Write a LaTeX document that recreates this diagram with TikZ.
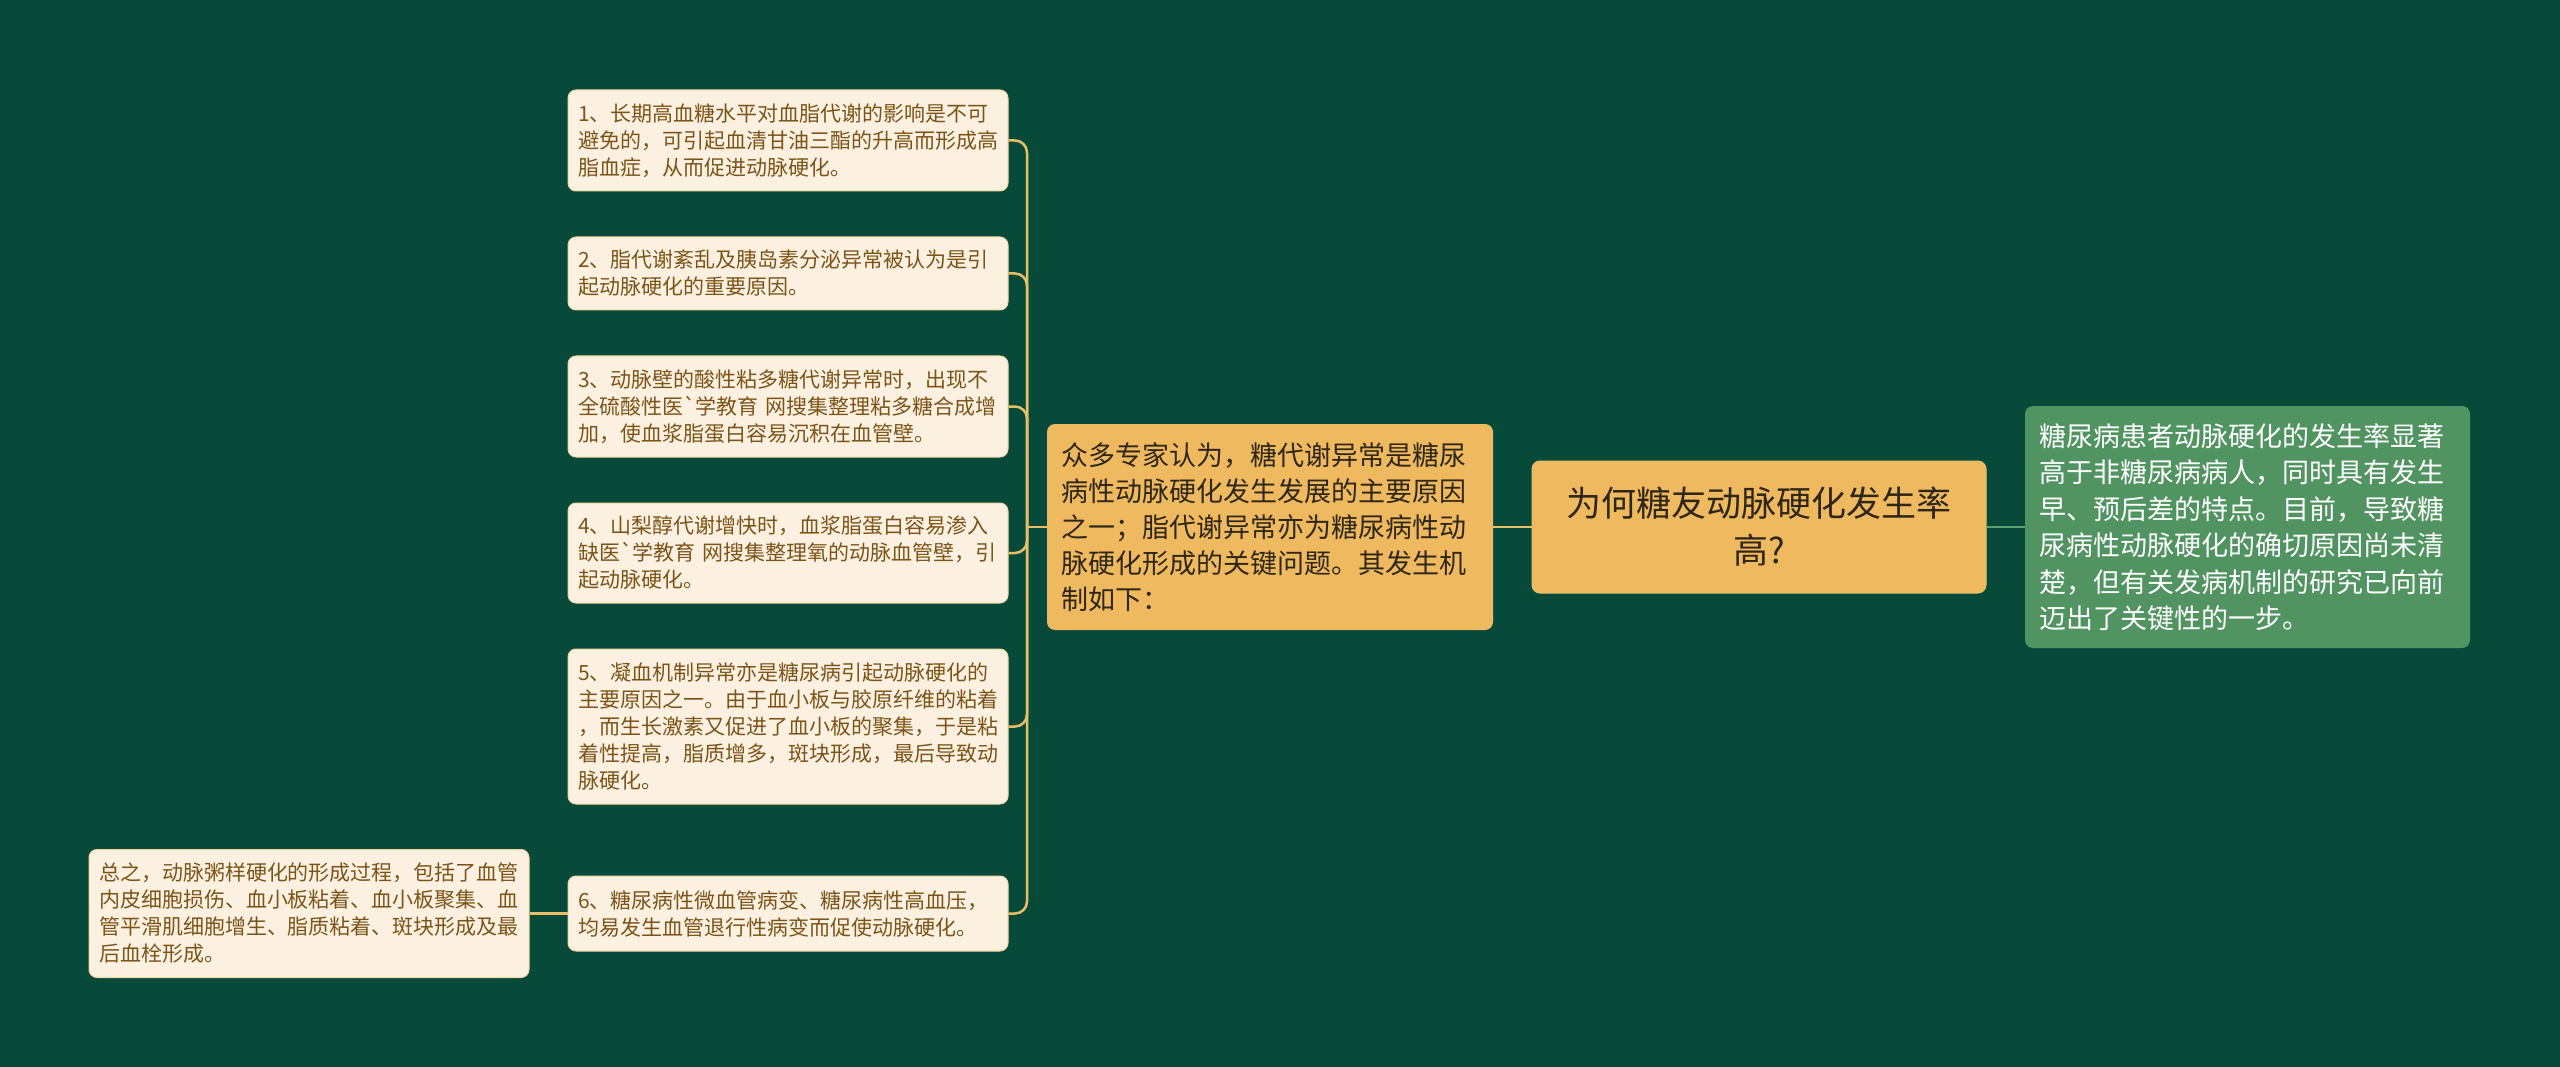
\documentclass[tikz,border=0pt]{standalone}
\usepackage{fontspec}
\newfontfamily\cjk{Noto Sans CJK SC}
\definecolor{bg}{HTML}{074A3A}
\definecolor{leaffill}{HTML}{FCF1E1}
\definecolor{leafedge}{HTML}{F0D79C}
\definecolor{leaftext}{HTML}{7B5418}
\definecolor{orangefill}{HTML}{EFBA5F}
\definecolor{darktext}{HTML}{2E2616}
\definecolor{greenfill}{HTML}{519462}
\definecolor{gold}{HTML}{E8BF66}
\definecolor{greenline}{HTML}{5BA06E}
\tikzset{
  leaf/.style={draw=leafedge, line width=1pt, fill=leaffill, rounded corners=8pt,
    text=leaftext, font=\cjk\fontsize{21}{27}\selectfont, align=left,
    text width=420pt, inner xsep=10pt, inner ysep=0pt, minimum width=440pt},
  midbox/.style={fill=orangefill, rounded corners=8pt, text=darktext,
    font=\cjk\fontsize{27}{36}\selectfont, align=left,
    text width=418pt, inner xsep=14pt, inner ysep=0pt, minimum width=446pt},
  rootbox/.style={fill=orangefill, draw=gold, line width=1pt, rounded corners=8pt, text=darktext,
    font=\cjk\fontsize{35}{47}\selectfont, align=center,
    text width=430pt, inner xsep=12pt, inner ysep=0pt, minimum width=454pt},
  greenbox/.style={fill=greenfill, rounded corners=8pt, text=white,
    font=\cjk\fontsize{27}{36.5}\selectfont, align=left,
    text width=417pt, inner xsep=14pt, inner ysep=0pt, minimum width=445pt},
  conn/.style={draw=gold, line width=2.5pt},
  gconn/.style={draw=greenline, line width=2.5pt}
}
\begin{document}
\begin{tikzpicture}[x=1pt,y=-1pt]
\fill[bg] (0,0) rectangle (2560,1067);
\useasboundingbox (0,0) rectangle (2560,1067);

\node[leaf, minimum height=101pt] (l1) at (788,140.5) {1、长期高血糖水平对血脂代谢的影响是不可\\避免的，可引起血清甘油三酯的升高而形成高\\脂血症，从而促进动脉硬化。};
\node[leaf, minimum height=73pt] (l2) at (788,273.5) {2、脂代谢紊乱及胰岛素分泌异常被认为是引\\起动脉硬化的重要原因。};
\node[leaf, minimum height=101pt] (l3) at (788,406.5) {3、动脉壁的酸性粘多糖代谢异常时，出现不\\全硫酸性医`学教育 网搜集整理粘多糖合成增\\加，使血浆脂蛋白容易沉积在血管壁。};
\node[leaf, minimum height=100pt] (l4) at (788,553) {4、山梨醇代谢增快时，血浆脂蛋白容易渗入\\缺医`学教育 网搜集整理氧的动脉血管壁，引\\起动脉硬化。};
\node[leaf, minimum height=155pt] (l5) at (788,726.5) {5、凝血机制异常亦是糖尿病引起动脉硬化的\\主要原因之一。由于血小板与胶原纤维的粘着\\，而生长激素又促进了血小板的聚集，于是粘\\着性提高，脂质增多，斑块形成，最后导致动\\脉硬化。};
\node[leaf, minimum height=75pt] (l6) at (788,913.5) {6、糖尿病性微血管病变、糖尿病性高血压，\\均易发生血管退行性病变而促使动脉硬化。};
\node[leaf, minimum height=128pt] (l7) at (309,913.5) {总之，动脉粥样硬化的形成过程，包括了血管\\内皮细胞损伤、血小板粘着、血小板聚集、血\\管平滑肌细胞增生、脂质粘着、斑块形成及最\\后血栓形成。};

\node[midbox, minimum height=206pt] (mid) at (1270,527) {众多专家认为，糖代谢异常是糖尿\\病性动脉硬化发生发展的主要原因\\之一；脂代谢异常亦为糖尿病性动\\脉硬化形成的关键问题。其发生机\\制如下：};
\node[rootbox, minimum height=132pt] (root) at (1759,527) {为何糖友动脉硬化发生率\\高?};
\node[greenbox, minimum height=242pt] (gr) at (2247.5,527) {糖尿病患者动脉硬化的发生率显著\\高于非糖尿病病人，同时具有发生\\早、预后差的特点。目前，导致糖\\尿病性动脉硬化的确切原因尚未清\\楚，但有关发病机制的研究已向前\\迈出了关键性的一步。};

\coordinate (trunk) at (1027,527);
\draw[conn] (root.west) -- (mid.east);
\draw[gconn] (root.east) -- (gr.west);
\draw[conn] (mid.west) -- (trunk);
\foreach \n in {l1,l2,l3,l4,l5,l6}{
  \draw[conn, rounded corners=12pt] (trunk) |- (\n.east);
}
\draw[conn] (l6.west) -- (l7.east);
\end{tikzpicture}
\end{document}
